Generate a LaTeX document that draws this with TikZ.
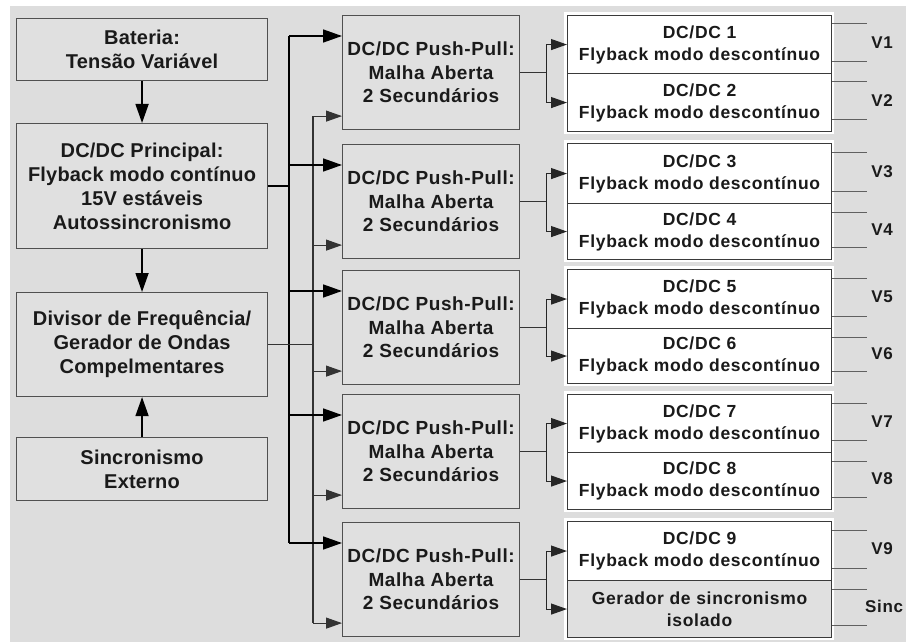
\documentclass[tikz,border=0pt]{standalone}
\usepackage{fontspec}
\setmainfont{Liberation Sans}
\newfontfamily\fleft{Liberation Sans Bold}[LetterSpace=1]
\newfontfamily\fpp{Liberation Sans Bold}[LetterSpace=3]
\newfontfamily\ffb{Liberation Sans Bold}[LetterSpace=4]
\usetikzlibrary{arrows.meta}

\definecolor{bgc}{HTML}{DDDDDD}
\definecolor{boxfill}{HTML}{E0E0E0}
\definecolor{boxline}{HTML}{505050}
\definecolor{fbline}{HTML}{3A3A3A}
\definecolor{txt}{HTML}{1A1A1A}
\definecolor{outc}{HTML}{606060}

\begin{document}
\begin{tikzpicture}[x=1pt,y=-1pt,
  box/.style={draw=boxline, line width=1.1pt, fill=boxfill, inner sep=0pt,
    align=center, text=txt, anchor=north west},
  lbox/.style={box, minimum width=251pt, font=\fleft\fontsize{20}{24}\selectfont},
  ppbox/.style={box, minimum width=177pt, minimum height=114pt,
    font=\fpp\fontsize{19}{23.5}\selectfont},
  fbsec/.style={box, draw=fbline, fill=white, minimum width=264pt,
    font=\ffb\fontsize{17.5}{22}\selectfont},
  vlab/.style={inner sep=0pt, text=txt, font=\ffb\fontsize{17}{18}\selectfont},
  bus/.style={draw=black, line width=1.7pt},
  sbusl/.style={draw=black!80, line width=1.1pt},
  arr/.style={draw=black, line width=1.6pt, -{Triangle[length=19pt,width=13pt]}},
  sarr/.style={draw=black!80, line width=1.1pt, -{Triangle[length=16pt,width=11pt]}},
  farr/.style={draw=black!85, line width=1.1pt, -{Triangle[length=16pt,width=11pt]}},
  outl/.style={draw=outc, line width=1pt},
]
\useasboundingbox (0,0) rectangle (906,642);
\fill[bgc] (10,6) rectangle (906,642);

% left column
\node[lbox, minimum height=62pt]  (bat)   at (16,18)  {Bateria:\\Tensão Variável};
\node[lbox, minimum height=125pt] (princ) at (16,123) {DC/DC Principal:\\Flyback modo contínuo\\15V estáveis\\Autossincronismo};
\node[lbox, minimum height=104pt] (div)   at (16,292) {Divisor de Frequência/\\Gerador de Ondas\\Compelmentares};
\node[lbox, minimum height=63pt]  (sinc)  at (16,437) {Sincronismo\\Externo};

\draw[arr] (bat) -- (princ);
\draw[arr] (princ) -- (div);
\draw[arr] (sinc) -- (div);

% push-pull stages
\coordinate (mbus) at (289,0);
\coordinate (sbus) at (313,0);
\foreach \i/\t in {1/15,2/144,3/270,4/394,5/522}{
  \node[ppbox] (pp\i) at (342,\t) {DC/DC Push-Pull:\\Malha Aberta\\2 Secundários};
  \coordinate (ia\i) at ([yshift=-21pt]pp\i.north west);
  \coordinate (ib\i) at ([yshift=14pt]pp\i.south west);
}
\draw[bus] (princ.east) -- (princ.east -| mbus);
\draw[bus] (ia1 -| mbus) -- (ia5 -| mbus);
\draw[sbusl] (div.east) -- (div.east -| sbus);
\draw[sbusl] (ib1 -| sbus) -- (ib5 -| sbus);
\foreach \i in {1,...,5}{
  \draw[arr] (ia\i -| mbus) -- (ia\i);
  \draw[sarr] (ib\i -| sbus) -- (ib\i);
}

% flyback converters
\foreach \i/\t/\d/\b in {1/15/73/131,2/143/203/259,3/269/328/383,4/394/452/509,5/521/580/637}{
  \fill[white] (564,\t-3) rectangle (834,\b+3);
}
\foreach \i/\t/\d/\b in {1/15/73/131,2/143/203/259,3/269/328/383,4/394/452/509}{
  \pgfmathtruncatemacro{\na}{2*\i-1}
  \pgfmathtruncatemacro{\nb}{2*\i}
  \pgfmathsetmacro{\ha}{\d-\t}
  \pgfmathsetmacro{\hb}{\b-\d}
  \node[fbsec, minimum height=\ha pt] (fa\i) at (567,\t) {DC/DC \na\\Flyback modo descontínuo};
  \node[fbsec, minimum height=\hb pt] (fb\i) at (567,\d) {DC/DC \nb\\Flyback modo descontínuo};
  \node[vlab] (va\i) at ([xshift=50pt,yshift=2pt]fa\i.east) {V\na};
  \node[vlab] (vb\i) at ([xshift=50pt,yshift=2pt]fb\i.east) {V\nb};
}
\node[fbsec, minimum height=59pt] (fa5) at (567,521) {DC/DC 9\\Flyback modo descontínuo};
\node[fbsec, fill=boxfill, minimum height=57pt] (fb5) at (567,580) {Gerador de sincronismo\\isolado};
\node[vlab] (va5) at ([xshift=50pt,yshift=2pt]fa5.east) {V9};
\node[vlab] (vb5) at ([xshift=52pt,yshift=3pt]fb5.east) {Sinc};

\foreach \i in {1,...,5}{
  \coordinate (j\i) at ([xshift=26pt]pp\i.east);
  \draw[sbusl] (pp\i.east) -- (j\i);
  \draw[farr] (j\i) |- (fa\i.west);
  \draw[farr] (j\i) |- (fb\i.west);
  \foreach \s in {a,b}{
    \draw[outl] ([yshift=-9pt]f\s\i.north east) -- ++(35,0);
    \draw[outl] ([yshift=13pt]f\s\i.south east) -- ++(35,0);
  }
}
\end{tikzpicture}
\end{document}
